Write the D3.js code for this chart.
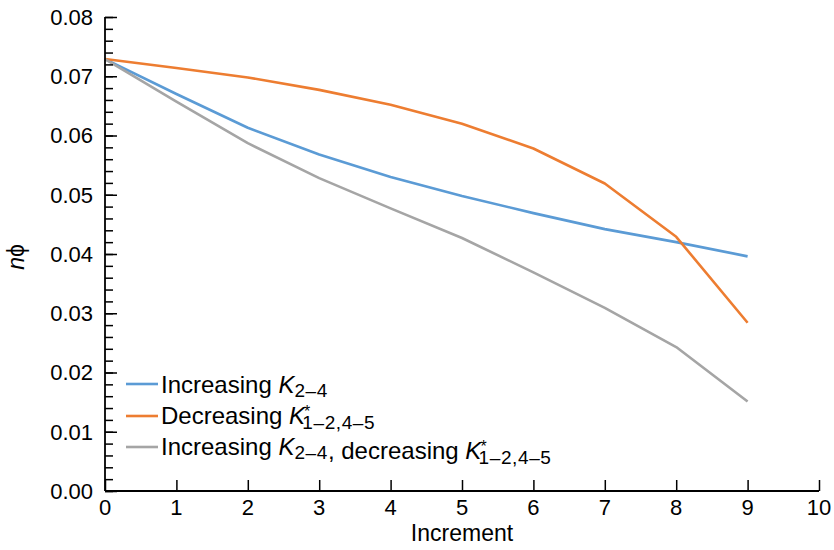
<!DOCTYPE html>
<html>
<head>
<meta charset="utf-8">
<script src="https://cdn.jsdelivr.net/npm/d3@7"></script>
<style>
  body { margin: 0; background: #fff; }
  text { font-family: "Liberation Sans", Arial, sans-serif; fill: #000; }
</style>
</head>
<body>
<svg id="chart" width="834" height="550"></svg>
<script>
// Data
const increments = [0, 1, 2, 3, 4, 5, 6, 7, 8, 9];
const increasingK = [0.0729, 0.0670, 0.0613, 0.0568, 0.0530, 0.0498, 0.0469, 0.0442, 0.0420, 0.0396];
const decreasingK = [0.0729, 0.0714, 0.0698, 0.0677, 0.0652, 0.0620, 0.0578, 0.0519, 0.0429, 0.0284];
const combined    = [0.0729, 0.0657, 0.0587, 0.0528, 0.0477, 0.0427, 0.0369, 0.0309, 0.0243, 0.0151];
const xTicks = [0, 1, 2, 3, 4, 5, 6, 7, 8, 9, 10];
const yTicks = [0, 0.01, 0.02, 0.03, 0.04, 0.05, 0.06, 0.07, 0.08];

const series = [
  { values: increasingK, color: '#5B9BD5' },
  { values: decreasingK, color: '#ED7D31' },
  { values: combined,    color: '#A5A5A5' }
];

const svg = d3.select('#chart');
const plotLeft = 105, plotRight = 819, plotTop = 17, plotBottom = 491;

const x = d3.scaleLinear().domain([0, 10]).range([plotLeft, plotRight]);
const y = d3.scaleLinear().domain([0, 0.08]).range([plotBottom, plotTop]);

// Lines
const line = d3.line()
  .x((d, i) => x(increments[i]))
  .y(d => y(d));

series.forEach(s => {
  svg.append('path')
    .datum(s.values)
    .attr('fill', 'none')
    .attr('stroke', s.color)
    .attr('stroke-width', 2.6)
    .attr('stroke-linejoin', 'round')
    .attr('d', line);
});

// Y axis with minor ticks pointing inward
const yMinor = d3.range(0, 0.0801, 0.002);
svg.append('g')
  .attr('transform', `translate(${plotLeft},0)`)
  .call(d3.axisRight(y).tickValues(yMinor).tickSize(8).tickFormat(''))
  .call(g => g.select('.domain').remove())
  .call(g => g.selectAll('line').attr('stroke-width', 1.5));

svg.append('g')
  .attr('transform', `translate(${plotLeft},0)`)
  .call(d3.axisRight(y).tickValues(yTicks).tickSize(12).tickFormat(''))
  .call(g => g.select('.domain').remove())
  .call(g => g.selectAll('line').attr('stroke-width', 1.5));

svg.append('g')
  .selectAll('text')
  .data(yTicks)
  .join('text')
  .attr('x', 93)
  .attr('y', d => y(d))
  .attr('dy', '0.36em')
  .attr('text-anchor', 'end')
  .style('font-size', '22px')
  .text(d => d3.format('.2f')(d));

// X axis with ticks pointing inward
svg.append('g')
  .attr('transform', `translate(0,${plotBottom})`)
  .call(d3.axisTop(x).tickValues(xTicks).tickSize(11).tickFormat(''))
  .call(g => g.select('.domain').remove())
  .call(g => g.selectAll('line').attr('stroke-width', 1.5));

svg.append('g')
  .selectAll('text')
  .data(xTicks)
  .join('text')
  .attr('x', d => x(d))
  .attr('y', 515)
  .attr('text-anchor', 'middle')
  .style('font-size', '22px')
  .text(d => d);

// Axis lines
svg.append('line')
  .attr('x1', plotLeft).attr('x2', plotLeft).attr('y1', plotTop).attr('y2', plotBottom)
  .attr('stroke', '#000').attr('stroke-width', 1.8);
svg.append('line')
  .attr('x1', plotLeft).attr('x2', plotRight).attr('y1', plotBottom).attr('y2', plotBottom)
  .attr('stroke', '#000').attr('stroke-width', 1.8);

// Axis titles
svg.append('text')
  .attr('x', x(5)).attr('y', 541)
  .attr('text-anchor', 'middle')
  .style('font-size', '23px')
  .text('Increment');

const yTitle = svg.append('text')
  .attr('transform', 'translate(24,257) rotate(-90)')
  .attr('text-anchor', 'middle')
  .style('font-size', '23px');
yTitle.append('tspan').style('font-style', 'italic').text('n');
yTitle.append('tspan').text('\u03D5');

// Legend
const legendRows = [
  { color: '#5B9BD5', y: 384 },
  { color: '#ED7D31', y: 416 },
  { color: '#A5A5A5', y: 447 }
];
legendRows.forEach(r => {
  svg.append('line')
    .attr('x1', 126).attr('x2', 158)
    .attr('y1', r.y).attr('y2', r.y)
    .attr('stroke', r.color).attr('stroke-width', 2.6);
});

function addK(t, sub, star) {
  t.append('tspan').style('font-style', 'italic').text('K');
  if (star) {
    t.append('tspan').attr('dx', -1).attr('dy', -7).style('font-size', '16px').text('*');
    t.append('tspan').attr('dx', -8).attr('dy', 11.5).style('font-size', '19px')
      .style('letter-spacing', '0.6px').text(sub);
    t.append('tspan').attr('dy', -4.5).text('');
  } else {
    t.append('tspan').attr('dy', 4).style('font-size', '19px')
      .style('letter-spacing', '0.6px').text(sub);
    t.append('tspan').attr('dy', -4).text('');
  }
}

const t1 = svg.append('text').attr('x', 161).attr('y', legendRows[0].y + 9).style('font-size', '24px');
t1.append('tspan').text('Increasing ');
addK(t1, '2\u20134', false);

const t2 = svg.append('text').attr('x', 161).attr('y', legendRows[1].y + 8).style('font-size', '24px');
t2.append('tspan').text('Decreasing ');
addK(t2, '1\u20132,4\u20135', true);

const t3 = svg.append('text').attr('x', 161).attr('y', legendRows[2].y + 8).style('font-size', '24px');
t3.append('tspan').text('Increasing ');
addK(t3, '2\u20134', false);
t3.append('tspan').text(', decreasing ');
addK(t3, '1\u20132,4\u20135', true);
</script>
</body>
</html>
